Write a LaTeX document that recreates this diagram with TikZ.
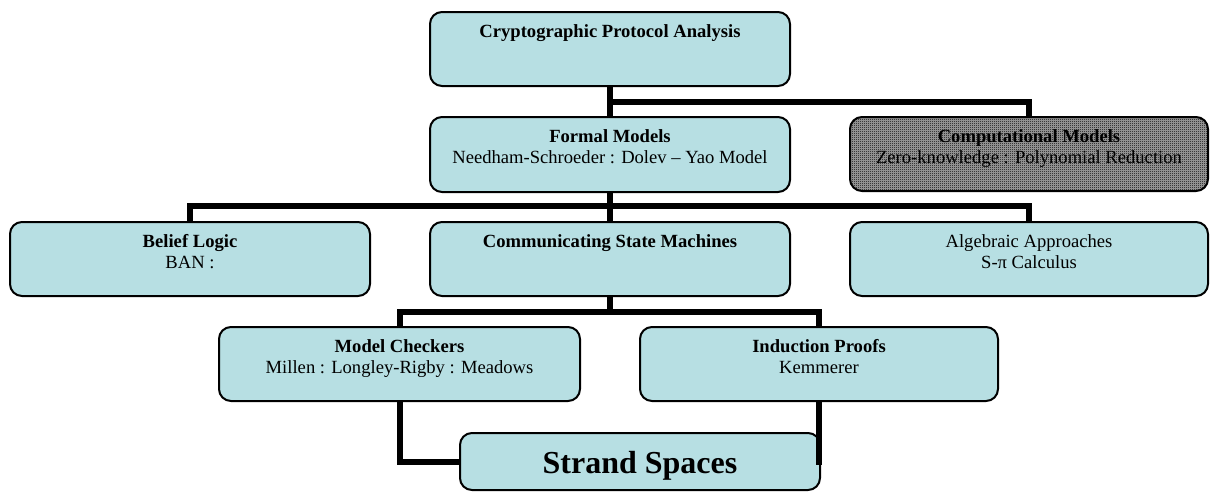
\documentclass[tikz,border=0pt]{standalone}
\usepackage{fontspec}
\setmainfont{Liberation Serif}
\usetikzlibrary{patterns}
\pgfdeclarepatternformonly{finecheck}{\pgfpointorigin}{\pgfpoint{2pt}{2pt}}{\pgfpoint{2pt}{2pt}}{%
 \pgfpathrectangle{\pgfpointorigin}{\pgfpoint{1pt}{1pt}}%
 \pgfpathrectangle{\pgfpoint{1pt}{1pt}}{\pgfpoint{1pt}{1pt}}%
 \pgfusepath{fill}}
\definecolor{boxfill}{RGB}{183,223,227}
\begin{document}
\begin{tikzpicture}[x=1pt,y=-1pt,
  box/.style={draw=black, line width=2pt, rounded corners=12pt, fill=boxfill, inner sep=0pt, minimum height=74pt, minimum width=360pt},
  gbox/.style={box, preaction={fill=black!35}, pattern=finecheck, pattern color=black},
  txt/.style={font=\fontsize{18.6}{21}\selectfont, align=center, inner sep=0pt, anchor=base},
  big/.style={font=\fontsize{32}{38}\selectfont\bfseries, inner sep=0pt, anchor=base},
  conn/.style={line width=6pt, line cap=butt, line join=miter}]
\useasboundingbox (0,0) rectangle (1210,491);
% boxes
\node[box] (cpa) at (610,49) {};
\node[box, minimum height=75pt] (formal) at (610,154.5) {};
\node[gbox, minimum width=358pt] (comp) at (1029,154) {};
\node[box] (belief) at (190,259) {};
\node[box] (comm) at (610,259) {};
\node[box, minimum width=358pt] (alg) at (1029,259) {};
\node[box, minimum width=361pt] (mc) at (399.5,364) {};
\node[box, minimum width=358pt] (ip) at (819,364) {};
\node[box, minimum height=57pt] (ss) at (640,461.5) {};
% texts (anchor base = baseline of the last line)
\node[txt] (cpa-t) at ([yshift=-26pt]cpa.north) {\textbf{Cryptographic Protocol Analysis}};
\node[txt] (formal-t) at ([yshift=-47pt]formal.north) {\textbf{Formal Models}\\Needham-Schroeder : Dolev – Yao Model};
\node[txt] (comp-t) at ([yshift=-47pt]comp.north) {\textbf{Computational Models}\\Zero-knowledge : Polynomial Reduction};
\node[txt] (belief-t) at ([yshift=-47pt]belief.north) {\textbf{Belief Logic}\\BAN :};
\node[txt] (comm-t) at ([yshift=-26pt]comm.north) {\textbf{Communicating State Machines}};
\node[txt] (alg-t) at ([yshift=-47pt]alg.north) {Algebraic Approaches\\S-π Calculus};
\node[txt] (mc-t) at ([yshift=-47pt]mc.north) {\textbf{Model Checkers}\\Millen : Longley-Rigby : Meadows};
\node[txt] (ip-t) at ([yshift=-47pt]ip.north) {\textbf{Induction Proofs}\\Kemmerer};
\node[big] (ss-t) at ([yshift=-41pt]ss.north) {Strand Spaces};
% junctions
\coordinate (j1) at (610,102);
\coordinate (j2) at (610,206);
\coordinate (j3) at (610,312);
\coordinate (ipend) at (819,465);
% connectors
\draw[conn] (cpa.south) -- (formal.north);
\draw[conn] (j1) -| (comp.north);
\draw[conn] (formal.south) -- (comm.north);
\draw[conn] (j2) -| (belief.north);
\draw[conn] (j2) -| (alg.north);
\draw[conn] (comm.south) -- (j3);
\draw[conn] (j3) -| (mc.north);
\draw[conn] (j3) -| (ip.north);
\draw[conn] (mc.south) |- (ss.west);
\draw[conn] (ip.south) -- (ipend);
\end{tikzpicture}
\end{document}
